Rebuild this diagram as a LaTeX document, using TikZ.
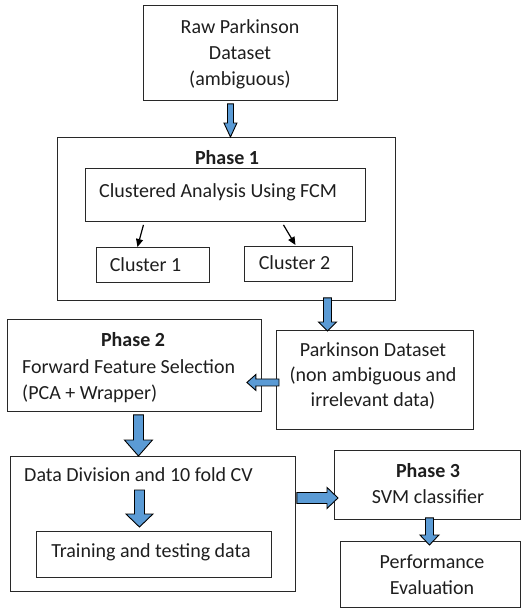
\documentclass[tikz,border=0pt]{standalone}
\usepackage{fontspec}
\setmainfont{Carlito}
\usetikzlibrary{calc,arrows.meta}
\definecolor{arrowblue}{RGB}{91,155,213}
\definecolor{linegray}{RGB}{40,40,40}
\definecolor{txt}{RGB}{30,30,30}
\tikzset{
 box/.style={draw=linegray, line width=0.9pt, inner sep=0pt, anchor=north west},
 lbl/.style={inner sep=0pt, text=txt, font=\fontsize{20}{26}\selectfont},
 ml/.style={lbl, align=center},
 boldlbl/.style={lbl, font=\fontsize{20}{26}\selectfont\bfseries},
 blk/.style={draw=black, line width=0.9pt, fill=arrowblue, line join=miter},
 thinarrow/.style={draw=black, line width=1.2pt, -{Triangle[length=8pt,width=7pt]}},
}
% vertical block arrow: x from start, tip y from end
\newcommand{\blkdown}[5]{\draw[blk] let \p1=#1, \p2=#2 in
 (\x1-#3pt,\y1) -- (\x1+#3pt,\y1) -- (\x1+#3pt,\y2+#5pt) -- (\x1+#4pt,\y2+#5pt)
 -- (\x1,\y2) -- (\x1-#4pt,\y2+#5pt) -- (\x1-#3pt,\y2+#5pt) -- cycle;}
% horizontal block arrow pointing left
\newcommand{\blkleft}[5]{\draw[blk] let \p1=#1, \p2=#2 in
 (\x1,\y1-#3pt) -- (\x1,\y1+#3pt) -- (\x2+#5pt,\y1+#3pt) -- (\x2+#5pt,\y1+#4pt)
 -- (\x2,\y1) -- (\x2+#5pt,\y1-#4pt) -- (\x2+#5pt,\y1-#3pt) -- cycle;}
% horizontal block arrow pointing right
\newcommand{\blkright}[5]{\draw[blk] let \p1=#1, \p2=#2 in
 (\x1,\y1-#3pt) -- (\x1,\y1+#3pt) -- (\x2-#5pt,\y1+#3pt) -- (\x2-#5pt,\y1+#4pt)
 -- (\x2,\y1) -- (\x2-#5pt,\y1-#4pt) -- (\x2-#5pt,\y1-#3pt) -- cycle;}
\begin{document}
\begin{tikzpicture}[x=1pt,y=-1pt]
\useasboundingbox (0,0) rectangle (521,610);
% boxes
\node[box, minimum width=194pt, minimum height=95pt] (raw) at (143,5) {};
\node[box, minimum width=338pt, minimum height=163pt] (p1) at (57,137) {};
\node[box, minimum width=280pt, minimum height=53pt] (fcm) at (85,168) {};
\node[box, minimum width=113pt, minimum height=35pt] (c1) at (96,247) {};
\node[box, minimum width=108pt, minimum height=35pt] (c2) at (244,246) {};
\node[box, minimum width=197pt, minimum height=99pt] (pk) at (276,330) {};
\node[box, minimum width=254pt, minimum height=92pt] (p2) at (7,319) {};
\node[box, minimum width=285pt, minimum height=135pt] (data) at (10,456) {};
\node[box, minimum width=235pt, minimum height=46pt] (train) at (36,531) {};
\node[box, minimum width=186pt, minimum height=69pt] (p3) at (334,450) {};
\node[box, minimum width=180pt, minimum height=66pt] (perf) at (340,541) {};
% texts
\node[ml] (rawtxt) at (240,54) {Raw Parkinson\\Dataset\\(ambiguous)};
\node[boldlbl] (p1txt) at (227,158) {Phase 1};
\node[lbl, anchor=west] (fcmtxt) at (99,192) {Clustered Analysis Using FCM};
\node[lbl] (c1txt) at (145.5,265) {Cluster 1};
\node[lbl] (c2txt) at (294.5,263) {Cluster 2};
\node[ml, font=\fontsize{20}{25}\selectfont] (pktxt) at (373,376) {Parkinson Dataset\\(non ambiguous and\\irrelevant data)};
\node[boldlbl] (p2txt) at (133,340) {Phase 2};
\node[lbl, anchor=west] (p2a) at (22,367) {Forward Feature Selection};
\node[lbl, anchor=west] (p2b) at (22,394) {(PCA + Wrapper)};
\node[lbl, anchor=west] (datatxt) at (24,475) {Data Division and 10 fold CV};
\node[lbl] (traintxt) at (151,552) {Training and testing data};
\node[boldlbl] (p3txt) at (428,471) {Phase 3};
\node[lbl] (svmtxt) at (428,497) {SVM classifier};
\node[ml] (perftxt) at (432,575) {Performance\\Evaluation};
% thin arrows
\draw[thinarrow] ($(fcm.south)+(-82,3)$) -- ($(c1.north)+(-15.5,0)$);
\draw[thinarrow] ($(fcm.south)+(58,3)$) -- ($(c2.north)+(-3,-1)$);
% block arrows
\blkdown{($(raw.south)+(-10,3)$)}{(p1.north)}{3}{6.5}{14}
\blkdown{($(p1.south)+(101,-3)$)}{($(pk.north)+(0,1)$)}{4}{9}{9}
\blkleft{($(pk.west)+(3,2.5)$)}{($(p2.east)+(-15,0)$)}{3.5}{8}{9}
\blkdown{($(p2.south)+(4,3)$)}{(data.north)}{5}{14}{16}
\blkdown{($(data.north)+(-13.5,34)$)}{($(train.north)+(0,-4)$)}{5}{13.5}{13}
\blkright{($(data.east)+(1,-26)$)}{($(p3.west)+(4,0)$)}{5.5}{10.5}{11}
\blkdown{($(p3.south)+(2,-2)$)}{($(perf.north)+(0,4)$)}{4}{9.5}{10}
\end{tikzpicture}
\end{document}
